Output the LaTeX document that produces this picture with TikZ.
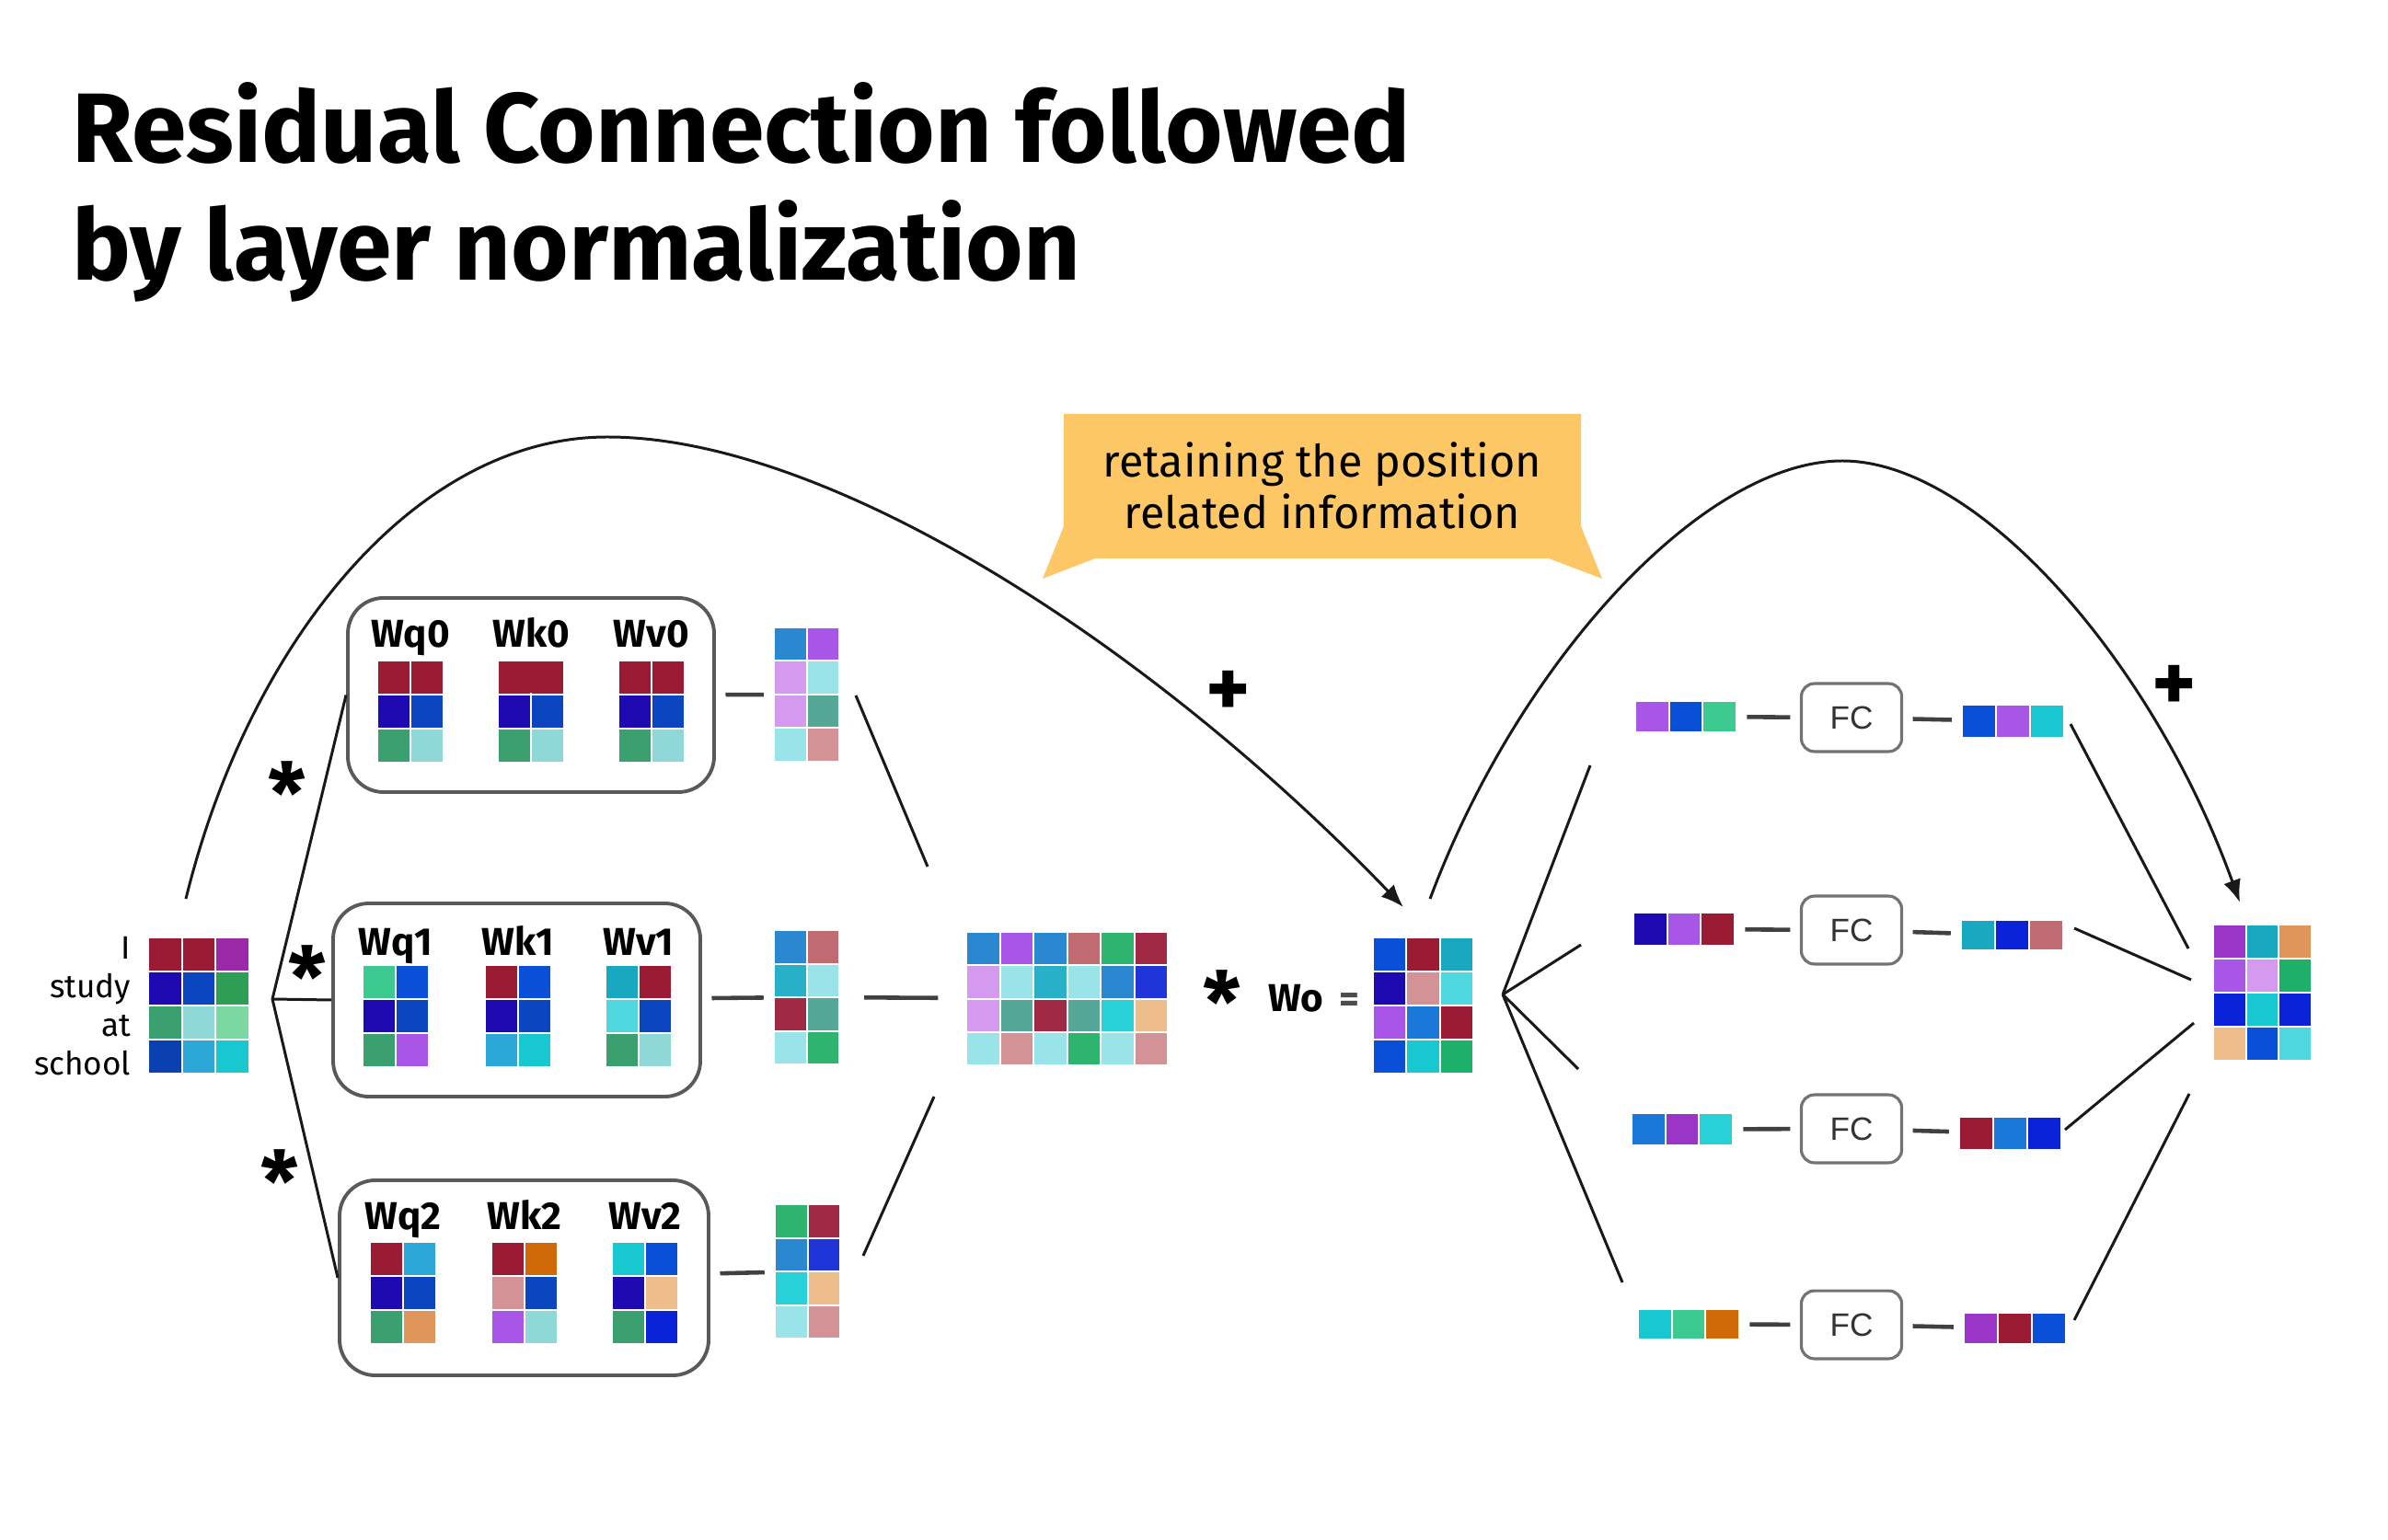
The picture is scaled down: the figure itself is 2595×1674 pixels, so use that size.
\documentclass[tikz,border=0pt]{standalone}
\usepackage{fontspec}
\setmainfont{Fira Sans}
\newfontfamily\fcfont{Liberation Sans}
\usetikzlibrary{arrows.meta,fit}

\definecolor{crim}{HTML}{9B1B35}
\definecolor{wine}{HTML}{A02A45}
\definecolor{indig}{HTML}{1E0AB0}
\definecolor{blu}{HTML}{0B45C0}
\definecolor{brt}{HTML}{0A4FD8}
\definecolor{roy}{HTML}{0A22D8}
\definecolor{dkblu}{HTML}{2035D8}
\definecolor{dblu}{HTML}{0B40B0}
\definecolor{cblu}{HTML}{1A78D8}
\definecolor{mblu}{HTML}{2A88D0}
\definecolor{grn}{HTML}{3BA070}
\definecolor{fgrn}{HTML}{2E9E55}
\definecolor{lgrn}{HTML}{7AD8A0}
\definecolor{mint}{HTML}{3DCA90}
\definecolor{jade}{HTML}{2DB46E}
\definecolor{ebgr}{HTML}{1DB068}
\definecolor{sgrn}{HTML}{55A898}
\definecolor{ltc}{HTML}{8ED8D8}
\definecolor{pale}{HTML}{98E4E8}
\definecolor{aqua}{HTML}{50D8E0}
\definecolor{cyn}{HTML}{18C8D0}
\definecolor{cyant}{HTML}{28D0D8}
\definecolor{teal}{HTML}{18A8C0}
\definecolor{tealb}{HTML}{28B0C8}
\definecolor{sky}{HTML}{2BA8D8}
\definecolor{purp}{HTML}{A855E8}
\definecolor{vio}{HTML}{9B35C8}
\definecolor{mag}{HTML}{9B2AA8}
\definecolor{lav}{HTML}{D49AF0}
\definecolor{pink}{HTML}{D29296}
\definecolor{rose}{HTML}{C06A72}
\definecolor{orn}{HTML}{D06A08}
\definecolor{tan}{HTML}{E0965A}
\definecolor{peach}{HTML}{EDBE8C}
\definecolor{notefill}{HTML}{FEC766}

\tikzset{
  wbox/.style={draw=black!65, line width=1.1pt, rounded corners=11pt, inner sep=0pt},
  fc/.style={draw=black!55, line width=0.9pt, rounded corners=4pt, minimum width=31pt,
    minimum height=21pt, font=\fcfont\fontsize{10}{12}\selectfont, text=black!80},
  wlab/.style={inner sep=0pt, anchor=base, font=\bfseries\fontsize{12}{14}\selectfont},
  word/.style={inner sep=0pt, anchor=base east, font=\fontsize{10}{12}\selectfont},
  op/.style={inner sep=0pt, font=\bfseries\fontsize{26}{28}\selectfont},
  link/.style={line width=0.85pt, black!90},
  stub/.style={line width=1.3pt, black!75, shorten <=#1, shorten >=#1},
  stub/.default=3pt,
  tip/.style={-{Latex[length=7pt,width=5.5pt]}}
}

\newcommand{\cellgrid}[6]{%
  \coordinate (#1-tl) at (#2,#3);
  \foreach \rowlist [count=\ri from 0] in {#6} {
    \foreach \col [count=\ci from 0] in \rowlist {
      \fill[\col] ({#2+\ci*#4+1},{#3+\ri*#5+1}) rectangle ++({#4-2},{#5-2});
      \coordinate (#1-br) at ({#2+(\ci+1)*#4},{#3+(\ri+1)*#5});
    }
  }
  \node[inner sep=0pt, fit=(#1-tl)(#1-br)] (#1) {};
}

\begin{document}
\begin{tikzpicture}[x=0.01cm, y=-0.01cm]
    \fill[white] (0,0) rectangle (2595,1674);
    \node[anchor=base west, inner sep=0pt, font=\bfseries\fontsize{30.5}{36}\selectfont] (title1) at (78,177) {Residual Connection followed};
    \node[anchor=base west, inner sep=0pt, font=\bfseries\fontsize{30.5}{36}\selectfont] (title2) at (78,305) {by layer normalization};

    \foreach \w/\y in {I/1042, study/1084, at/1126, school/1168}
        \node[word] (w-\w) at (143,\y) {\w};
    \cellgrid{inp}{161}{1019}{36.5}{37}{{crim,crim,mag},{indig,blu,fgrn},{grn,ltc,lgrn},{dblu,sky,cyn}}

    \node[wbox, fit={(378,650) (776,861)}] (box0) {};
    \node[wbox, fit={(362,982) (761,1192)}] (box1) {};
    \node[wbox, fit={(369,1283) (770,1495)}] (box2) {};
    \foreach \lab/\x/\y in {Wq0/446/704, Wk0/577/704, Wv0/708/704, Wq1/430/1038, Wk1/563/1038, Wv1/694/1038, Wq2/438/1336, Wk2/570/1336, Wv2/701/1336}
        \node[wlab] (l\lab) at (\x,\y) {\lab};
    \cellgrid{wq0}{410}{718}{36}{37}{{crim,crim},{indig,blu},{grn,ltc}}
    \cellgrid{wk0}{541}{718}{36}{37}{{crim,crim},{indig,blu},{grn,ltc}}
    \fill[crim] (575,719) rectangle (579,753);
    \cellgrid{wv0}{672}{718}{36}{37}{{crim,crim},{indig,blu},{grn,ltc}}
    \cellgrid{wq1}{394}{1049}{36}{37}{{mint,brt},{indig,blu},{grn,purp}}
    \cellgrid{wk1}{527}{1049}{36}{37}{{crim,brt},{indig,blu},{sky,cyn}}
    \cellgrid{wv1}{658}{1049}{36}{37}{{teal,crim},{aqua,blu},{grn,ltc}}
    \cellgrid{wq2}{402}{1350}{36}{37}{{crim,sky},{indig,blu},{grn,tan}}
    \cellgrid{wk2}{534}{1350}{36}{37}{{crim,orn},{pink,blu},{purp,ltc}}
    \cellgrid{wv2}{665}{1350}{36}{37}{{cyn,brt},{indig,peach},{grn,roy}}

    \coordinate (jl) at (296,1086);
    \draw[link] (box0.west) -- (jl) -- (box2.west);
    \draw[link] (jl) -- (box1.west);
    \node[op] (s1) at (312,862) {*};
    \node[op] (s2) at (334,1062) {*};
    \node[op] (s3) at (304,1284) {*};

    \cellgrid{v0}{841}{682}{35.5}{36.5}{{mblu,purp},{lav,pale},{lav,sgrn},{pale,pink}}
    \cellgrid{v1}{841}{1011}{35.5}{36.5}{{mblu,rose},{tealb,pale},{wine,sgrn},{pale,jade}}
    \cellgrid{v2}{842}{1309}{35.5}{36.5}{{jade,wine},{mblu,dkblu},{cyant,peach},{pale,pink}}
    \draw[stub] (box0) -- (v0);
    \draw[stub] (box1) -- (v1);
    \draw[stub] (box2) -- (v2);

    \cellgrid{cat}{1050}{1013}{36.5}{36.25}{{mblu,purp,mblu,rose,jade,wine},{lav,pale,tealb,pale,mblu,dkblu},{lav,sgrn,wine,sgrn,cyant,peach},{pale,pink,pale,jade,pale,pink}}
    \coordinate (d0a) at (930,756);
    \coordinate (d0b) at (1008,942);
    \coordinate (d2a) at (938,1365);
    \coordinate (d2b) at (1015,1192);
    \draw[link] (d0a) -- (d0b);
    \draw[link] (d2a) -- (d2b);
    \draw[stub, shorten <=7.5pt, shorten >=8.5pt] (v1) -- (cat);

    \node[op] (s4) at (1328,1089) {*};
    \node[wlab, anchor=center] (wo-lab) at (1408,1085) {Wo};
    \node[wlab, anchor=center, text=black!70] (eq) at (1466,1090) {=};
    \cellgrid{wo}{1492}{1019}{36.3}{37}{{brt,crim,teal},{indig,pink,aqua},{purp,cblu,crim},{brt,cyn,ebgr}}

    \coordinate (ra0) at (202,977);
    \coordinate (ra1) at (1525,986);
    \draw[link, tip] (ra0) .. controls (270,700) and (450,475) .. (660,475)
        .. controls (900,475) and (1250,700) .. (ra1);
    \node[op] (p1) at (1335,754) {+};

    \fill[notefill] (1133,629) -- (1156,572) -- (1156,450) -- (1718,450) -- (1718,572)
        -- (1741,629) -- (1683,607) -- (1190,607) -- cycle;
    \node[align=center, inner sep=0pt, font=\fontsize{13.8}{16}\selectfont] (note) at (1437,528) {retaining the position\\related information};

    \coordinate (rb0) at (1554,977);
    \coordinate (rb1) at (2434,981);
    \draw[link, tip] (rb0) .. controls (1650,720) and (1850,501) .. (2002,501)
        .. controls (2150,501) and (2340,720) .. (rb1);
    \node[op] (p2) at (2363,748) {+};

    \coordinate (jr) at (1633,1081);
    \foreach \n/\x/\y in {1/1728/832, 2/1718/1027, 3/1715/1162, 4/1763/1394}
        \draw[link] (jr) -- (\x,\y) coordinate (f\n);

    \foreach \n/\y in {1/780, 2/1011, 3/1227, 4/1440}
        \node[fc] (fc\n) at (2012,\y) {FC};
    \cellgrid{a1}{1777}{762}{36.7}{34}{{purp,brt,mint}}
    \cellgrid{a2}{1775}{992}{36.7}{36}{{indig,purp,crim}}
    \cellgrid{a3}{1773}{1210}{36.7}{35}{{cblu,vio,cyant}}
    \cellgrid{a4}{1780}{1423}{36.7}{33}{{cyn,mint,orn}}
    \cellgrid{b1}{2132}{766}{37}{36}{{brt,purp,cyn}}
    \cellgrid{b2}{2131}{1000}{37}{33}{{teal,roy,rose}}
    \cellgrid{b3}{2129}{1214}{37}{36}{{crim,cblu,roy}}
    \cellgrid{b4}{2134}{1427}{37}{34}{{vio,crim,brt}}
    \foreach \n in {1,2,3,4} {
        \draw[stub] (a\n) -- (fc\n);
        \draw[stub] (fc\n) -- (b\n);
    }

    \cellgrid{outm}{2405}{1005}{35.7}{37}{{vio,teal,tan},{purp,lav,ebgr},{roy,cyn,roy},{peach,brt,aqua}}
    \foreach \n/\xa/\ya/\xb/\yb in {1/2250/787/2378/1031, 2/2254/1009/2381/1065, 3/2244/1228/2384/1112, 4/2254/1435/2379/1189}
        \draw[link] (\xa,\ya) coordinate (g\n a) -- (\xb,\yb) coordinate (g\n b);
\end{tikzpicture}
\end{document}
